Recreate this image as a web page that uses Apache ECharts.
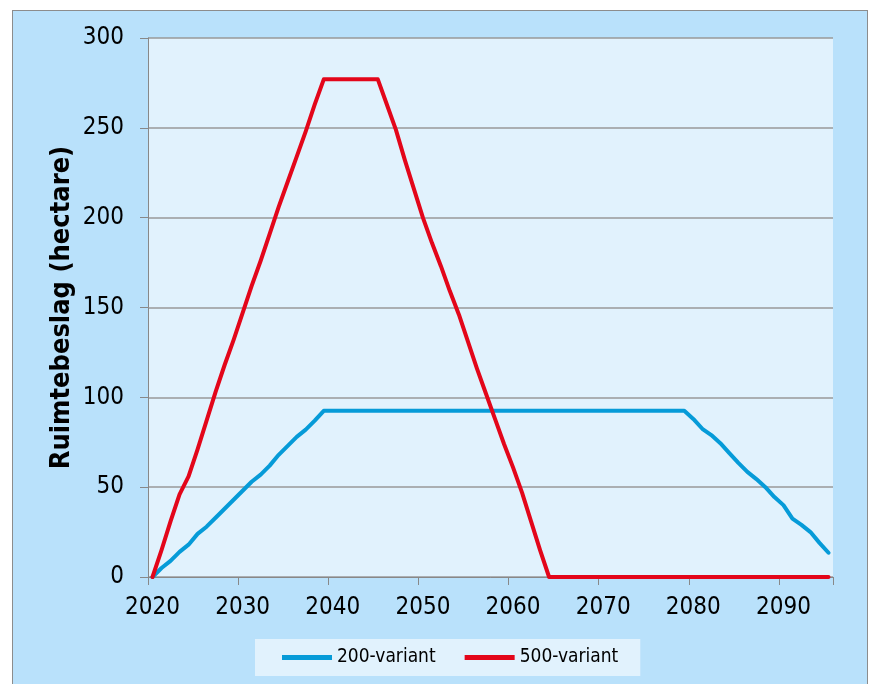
<!DOCTYPE html>
<html>
<head>
<meta charset="utf-8">
<script src="https://cdn.jsdelivr.net/npm/echarts@6/dist/echarts.min.js"></script>
<style>
  body { margin: 0; background: #ffffff; }
  #frame {
    position: absolute; left: 12px; top: 10px; width: 854px; height: 690px;
    background: #b9e1fb; border: 1px solid #8c8c8c;
  }
  #main { position: absolute; left: 0; top: 0; width: 870px; height: 684px; }
</style>
</head>
<body>
<div id="frame"></div>
<div id="main"></div>
<script>
// jaren 2020 t/m 2095
const years = [];
for (let y = 2020; y <= 2095; y++) years.push(String(y));

// 200-variant (hectare)
const variant200 = [
  0, 5, 9, 14, 18, 24, 28, 33, 38, 43,
  48, 53, 57, 62, 68, 73, 78, 82, 87, 92.5,
  92.5, 92.5, 92.5, 92.5, 92.5, 92.5, 92.5, 92.5, 92.5, 92.5,
  92.5, 92.5, 92.5, 92.5, 92.5, 92.5, 92.5, 92.5, 92.5, 92.5,
  92.5, 92.5, 92.5, 92.5, 92.5, 92.5, 92.5, 92.5, 92.5, 92.5,
  92.5, 92.5, 92.5, 92.5, 92.5, 92.5, 92.5, 92.5, 92.5, 92.5,
  88, 82.5, 79, 74.5, 69, 63.5, 58.5, 54.5, 50, 44.5,
  40, 32.5, 29, 25, 19, 13.5
];

// 500-variant (hectare)
const variant500 = [
  0, 15, 31, 46, 56, 71, 87, 103, 118, 132,
  147, 162, 176, 191, 206, 220, 234, 248, 263, 277,
  277, 277, 277, 277, 277, 277, 263, 249, 232, 216,
  200, 186, 173, 159, 146, 131, 116, 102, 88, 74,
  61, 47, 31, 15, 0, 0, 0, 0, 0, 0,
  0, 0, 0, 0, 0, 0, 0, 0, 0, 0,
  0, 0, 0, 0, 0, 0, 0, 0, 0, 0,
  0, 0, 0, 0, 0, 0
];

const fontFam = "'DejaVu Sans Condensed', 'DejaVu Sans', sans-serif";

const chart = echarts.init(document.getElementById('main'));
chart.setOption({
  backgroundColor: 'transparent',
  animation: false,
  grid: {
    left: 148, top: 38, right: 37, bottom: 107,
    show: true, backgroundColor: '#e1f2fd', borderWidth: 0
  },
  legend: {
    bottom: 8,
    left: 255,
    backgroundColor: '#e1f2fd',
    padding: [9, 22, 9, 27],
    itemWidth: 50,
    itemHeight: 5,
    itemGap: 29,
    icon: 'rect',
    textStyle: { fontFamily: fontFam, fontSize: 19, color: '#000' },
    data: ['200-variant', '500-variant']
  },
  xAxis: {
    type: 'category',
    data: years,
    boundaryGap: true,
    axisLine: { lineStyle: { color: '#888', width: 1 } },
    axisTick: { show: true, interval: 9, length: 8, lineStyle: { color: '#888' } },
    axisLabel: {
      interval: 9, margin: 19,
      fontFamily: fontFam, fontSize: 24, color: '#000'
    },
    splitLine: { show: false }
  },
  yAxis: {
    type: 'value',
    min: 0, max: 300, interval: 50,
    name: 'Ruimtebeslag (hectare)',
    nameLocation: 'middle',
    nameGap: 73,
    nameMoveOverlap: false,
    nameTextStyle: { fontFamily: fontFam, fontSize: 27, fontWeight: 'bold', color: '#000' },
    axisLine: { show: true, lineStyle: { color: '#888', width: 1 } },
    axisTick: { show: true, length: 8, lineStyle: { color: '#888' } },
    axisLabel: { margin: 24, fontFamily: fontFam, fontSize: 24, color: '#000' },
    splitLine: { lineStyle: { color: '#999', width: 1.5 } }
  },
  series: [
    {
      name: '200-variant',
      type: 'line',
      data: variant200,
      symbol: 'none',
      color: '#069bd8',
      lineStyle: { width: 4, color: '#069bd8', cap: 'round', join: 'round' }
    },
    {
      name: '500-variant',
      type: 'line',
      data: variant500,
      symbol: 'none',
      color: '#e3061a',
      lineStyle: { width: 4, color: '#e3061a', cap: 'round', join: 'round' }
    }
  ]
});
</script>
</body>
</html>
